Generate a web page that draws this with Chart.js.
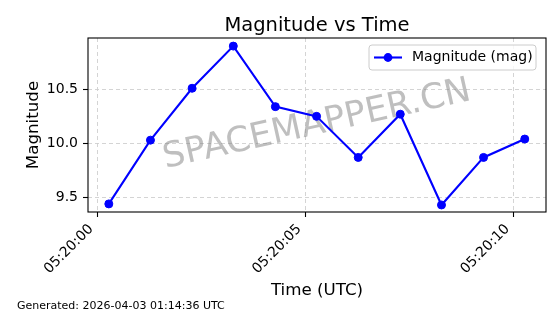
<!DOCTYPE html>
<html>
<head>
<meta charset="utf-8">
<script src="https://cdn.jsdelivr.net/npm/chart.js@4.4.1/dist/chart.umd.min.js"></script>
<style>
  html, body { margin: 0; padding: 0; background: #ffffff; }
  #wrap { width: 560px; height: 314px; }
</style>
</head>
<body>
<div id="wrap"><canvas id="mag-chart" width="560" height="314"></canvas></div>
<script>
// values (x = seconds after 05:20:00 UTC)
const timeSec = [0.28, 1.28, 2.28, 3.27, 4.28, 5.27, 6.27, 7.28, 8.27, 9.28, 10.27];
const magnitudes = [9.44, 10.03, 10.51, 10.90, 10.34, 10.25, 9.87, 10.27, 9.43, 9.87, 10.04];

const xTickSec = [0, 5, 10];
const xTickLabels = ["05:20:00", "05:20:05", "05:20:10"];
const yTickValues = [9.5, 10.0, 10.5];
const yTickLabels = ["9.5", "10.0", "10.5"];

const seriesLabel = "Magnitude (mag)";
const titleText = "Magnitude vs Time";
const xTitle = "Time (UTC)";
const yTitle = "Magnitude";
const watermarkText = "SPACEMAPPER.CN";
const footerText = "Generated: 2026-04-03 01:14:36 UTC";

const FONT = "'DejaVu Sans', 'Liberation Sans', sans-serif";
const BLUE = "#0000ff";

/* =========================
   extra matplotlib-ish bits
   ========================= */
const mplExtras = {
  id: "mplExtras",
  beforeDatasetsDraw(chart) {
    const { ctx, chartArea: a } = chart;
    // watermark
    ctx.save();
    ctx.translate((a.left + a.right) / 2, (a.top + a.bottom) / 2);
    ctx.rotate((-12.5 * Math.PI) / 180);
    ctx.font = `35px ${FONT}`;
    ctx.fillStyle = "rgba(128,128,128,0.5)";
    ctx.textAlign = "center";
    ctx.textBaseline = "middle";
    ctx.fillText(watermarkText, 0, 0);
    ctx.restore();
  },
  afterDatasetsDraw(chart) {
    const { ctx, chartArea: a } = chart;

    // axes frame
    ctx.save();
    ctx.strokeStyle = "#000";
    ctx.lineWidth = 1.1;
    ctx.strokeRect(a.left, a.top, a.right - a.left, a.bottom - a.top);
    ctx.restore();

    // legend box, upper right
    const bx = 369, by = 45, bw = 167, bh = 25, r = 3;
    ctx.save();
    ctx.beginPath();
    ctx.moveTo(bx + r, by);
    ctx.arcTo(bx + bw, by, bx + bw, by + bh, r);
    ctx.arcTo(bx + bw, by + bh, bx, by + bh, r);
    ctx.arcTo(bx, by + bh, bx, by, r);
    ctx.arcTo(bx, by, bx + bw, by, r);
    ctx.closePath();
    ctx.fillStyle = "rgba(255,255,255,0.8)";
    ctx.fill();
    ctx.strokeStyle = "#cccccc";
    ctx.lineWidth = 1;
    ctx.stroke();

    const ly = by + bh / 2;
    ctx.strokeStyle = BLUE;
    ctx.lineWidth = 2.1;
    ctx.beginPath();
    ctx.moveTo(374, ly);
    ctx.lineTo(402, ly);
    ctx.stroke();
    ctx.fillStyle = BLUE;
    ctx.beginPath();
    ctx.arc(388, ly, 4.4, 0, Math.PI * 2);
    ctx.fill();

    ctx.fillStyle = "#000";
    ctx.font = `14px ${FONT}`;
    ctx.textAlign = "left";
    ctx.textBaseline = "middle";
    ctx.fillText(chart.data.datasets[0].label, 412, ly);
    ctx.restore();
  },
  afterDraw(chart) {
    const { ctx, chartArea: a } = chart;
    ctx.save();
    ctx.fillStyle = "#000";
    ctx.textBaseline = "alphabetic";
    ctx.textAlign = "center";
    ctx.font = `19.5px ${FONT}`;
    ctx.fillText(titleText, (a.left + a.right) / 2, 31);
    ctx.textAlign = "left";
    ctx.font = `11px ${FONT}`;
    ctx.fillText(footerText, 17, 309);
    ctx.restore();
  },
};

/* =========================
   CHART
   ========================= */
const gridStyle = {
  color: "#cfcfcf",
  lineWidth: 0.9,
  drawTicks: true,
  tickLength: 5,
  tickColor: "#000",
  tickWidth: 1.1,
  tickBorderDash: [],
};

new Chart(document.getElementById("mag-chart"), {
  type: "line",
  data: {
    datasets: [
      {
        label: seriesLabel,
        data: timeSec.map((t, i) => ({ x: t, y: magnitudes[i] })),
        borderColor: BLUE,
        backgroundColor: BLUE,
        borderWidth: 2.1,
        pointRadius: 4,
        pointBorderWidth: 1,
        pointBackgroundColor: BLUE,
        pointBorderColor: BLUE,
        tension: 0,
        fill: false,
      },
    ],
  },
  options: {
    responsive: false,
    animation: false,
    devicePixelRatio: 1,
    layout: { padding: { left: 0, top: 38, right: 14, bottom: 0 } },
    plugins: {
      legend: { display: false },
      tooltip: { enabled: false },
      title: { display: false },
    },
    scales: {
      x: {
        type: "linear",
        min: -0.22,
        max: 10.78,
        afterFit: (s) => { s.height = 102; },
        afterBuildTicks: (s) => { s.ticks = xTickSec.map((v) => ({ value: v })); },
        grid: gridStyle,
        border: { display: false, dash: [4, 3] },
        ticks: {
          autoSkip: false,
          minRotation: 45,
          maxRotation: 45,
          padding: 4,
          labelOffset: -6,
          color: "#000",
          font: { family: FONT, size: 14 },
          callback: (v) => xTickLabels[xTickSec.indexOf(v)] ?? "",
        },
        title: {
          display: true,
          text: xTitle,
          color: "#000",
          font: { family: FONT, size: 16.7, lineHeight: 1.2 },
          padding: { top: 0, bottom: 13 },
        },
      },
      y: {
        type: "linear",
        min: 9.365,
        max: 10.975,
        afterFit: (s) => { s.width = 88; },
        afterBuildTicks: (s) => { s.ticks = yTickValues.map((v) => ({ value: v })); },
        grid: gridStyle,
        border: { display: false, dash: [4, 3] },
        ticks: {
          padding: 5,
          color: "#000",
          font: { family: FONT, size: 14 },
          callback: (v) => yTickLabels[yTickValues.indexOf(v)] ?? "",
        },
        title: {
          display: true,
          text: yTitle,
          color: "#000",
          font: { family: FONT, size: 16.7, lineHeight: 1.2 },
          padding: { top: 24, bottom: 0 },
        },
      },
    },
  },
  plugins: [mplExtras],
});
</script>
</body>
</html>
